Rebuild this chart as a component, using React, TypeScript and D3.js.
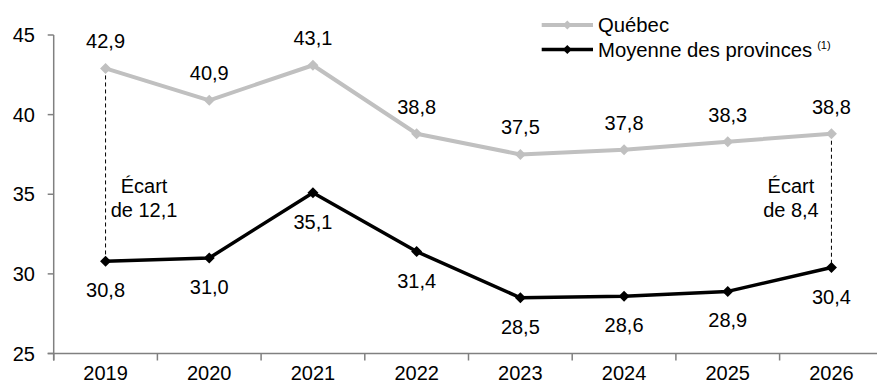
import React from "react";
import * as d3 from "d3";

const years = ["2019", "2020", "2021", "2022", "2023", "2024", "2025", "2026"];
const quebec = [42.9, 40.9, 43.1, 38.8, 37.5, 37.8, 38.3, 38.8];
const moyenne = [30.8, 31.0, 35.1, 31.4, 28.5, 28.6, 28.9, 30.4];
const yTicks = [25, 30, 35, 40, 45];
const seriesNames = ["Québec", "Moyenne des provinces"];
const gapLabels = [
  { idx: 0, lines: ["Écart", "de 12,1"] },
  { idx: 7, lines: ["Écart", "de 8,4"] },
];

const fmt = (v: number) => v.toFixed(1).replace(".", ",");
const FONT = "'Liberation Sans', Arial, sans-serif";

export default function App() {
  const W = 877,
    H = 385;
  const left = 53.7,
    right = 883.3;
  const x = d3.scaleBand<string>().domain(years).range([left, right]).padding(0);
  const cx = (i: number) => (x(years[i]) as number) + x.bandwidth() / 2;
  const y = d3.scaleLinear().domain([25, 45]).range([353.5, 35]);
  const line = d3
    .line<number>()
    .x((_, i) => cx(i))
    .y((d) => y(d));
  const diamond = (px: number, py: number, r: number) =>
    `M${px},${py - r}L${px + r},${py}L${px},${py + r}L${px - r},${py}Z`;
  const axisColor = "#808080";
  const gray = "#C0C0C0";

  return (
    <svg
      width={W}
      height={H}
      style={{ position: "fixed", left: 0, top: 0, background: "#fff" }}
      fontFamily={FONT}
    >
      {/* dashed gap lines */}
      {gapLabels.map((g) => (
        <line
          key={"gl" + g.idx}
          x1={cx(g.idx)}
          x2={cx(g.idx)}
          y1={y(quebec[g.idx])}
          y2={y(moyenne[g.idx])}
          stroke="#000"
          strokeWidth={1}
          strokeDasharray="4,3"
        />
      ))}
      {/* axes */}
      <line x1={left} x2={left} y1={y(45)} y2={y(25) + 7} stroke={axisColor} strokeWidth={1.5} />
      <line x1={left - 6} x2={W} y1={y(25)} y2={y(25)} stroke={axisColor} strokeWidth={1.5} />
      {yTicks.map((t) => (
        <g key={"yt" + t}>
          <line x1={left - 6} x2={left} y1={y(t)} y2={y(t)} stroke={axisColor} strokeWidth={1.5} />
          <text x={35} y={y(t) + 7} textAnchor="end" fontSize={20} fill="#000">
            {t}
          </text>
        </g>
      ))}
      {years.map((yr, i) => (
        <g key={"xt" + yr}>
          <line
            x1={x(yr) as number}
            x2={x(yr) as number}
            y1={y(25)}
            y2={y(25) + 7}
            stroke={axisColor}
            strokeWidth={1.5}
          />
          <text x={cx(i)} y={380} textAnchor="middle" fontSize={20} fill="#000">
            {yr}
          </text>
        </g>
      ))}
      {/* series lines */}
      <path d={line(quebec) || ""} fill="none" stroke={gray} strokeWidth={4} strokeLinejoin="round" />
      <path d={line(moyenne) || ""} fill="none" stroke="#000" strokeWidth={3.5} strokeLinejoin="round" />
      {quebec.map((v, i) => (
        <path key={"qm" + i} d={diamond(cx(i), y(v), 5.5)} fill={gray} />
      ))}
      {moyenne.map((v, i) => (
        <path key={"mm" + i} d={diamond(cx(i), y(v), 5.5)} fill="#000" />
      ))}
      {/* data labels */}
      {quebec.map((v, i) => (
        <text key={"ql" + i} x={cx(i)} y={y(v) - 20} textAnchor="middle" fontSize={20} fill="#000">
          {fmt(v)}
        </text>
      ))}
      {moyenne.map((v, i) => (
        <text key={"ml" + i} x={cx(i)} y={y(v) + 36} textAnchor="middle" fontSize={20} fill="#000">
          {fmt(v)}
        </text>
      ))}
      {/* gap labels */}
      {gapLabels.map((g) => {
        const tx = g.idx === 0 ? cx(g.idx) + 38.5 : cx(g.idx) - 40.5;
        return (
          <text key={"gt" + g.idx} x={tx} textAnchor="middle" fontSize={20} fill="#000">
            <tspan x={tx} y={193}>
              {g.lines[0]}
            </tspan>
            <tspan x={tx} y={217}>
              {g.lines[1]}
            </tspan>
          </text>
        );
      })}
      {/* legend */}
      <g>
        <line x1={541.7} x2={593} y1={25} y2={25} stroke={gray} strokeWidth={4} />
        <path d={diamond(567.3, 25, 4.5)} fill={gray} />
        <text x={598} y={31.5} fontSize={20.3} fill="#000">
          {seriesNames[0]}
        </text>
        <line x1={541.7} x2={593} y1={49.5} y2={49.5} stroke="#000" strokeWidth={3.5} />
        <path d={diamond(567.3, 49.5, 4.5)} fill="#000" />
        <text x={598} y={56.5} fontSize={20.3} fill="#000">
          {seriesNames[1]}
          <tspan dx={5} dy={-8} fontSize={11}>
            (1)
          </tspan>
        </text>
      </g>
    </svg>
  );
}
